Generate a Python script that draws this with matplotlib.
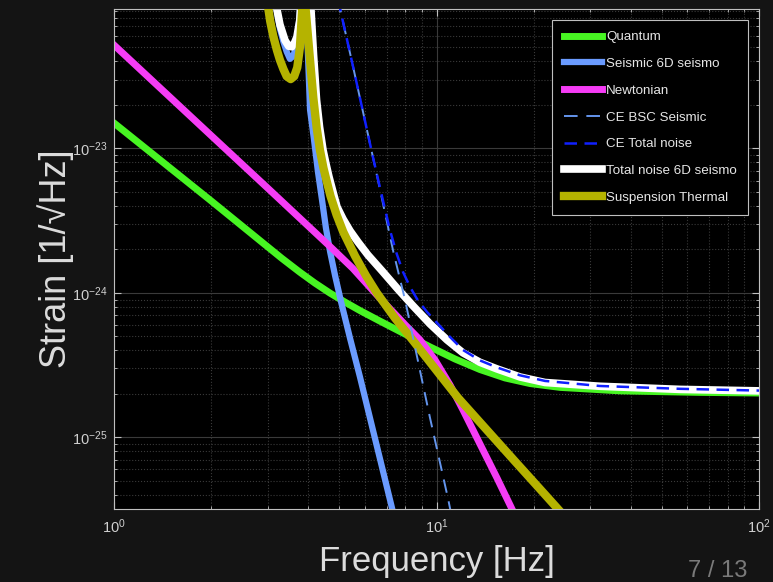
import numpy as np
import matplotlib.pyplot as plt
from matplotlib.ticker import NullFormatter

plt.rcParams['font.family'] = ['Liberation Sans', 'DejaVu Sans']
plt.rcParams['mathtext.default'] = 'regular'

# values: frequency [Hz], strain [1/sqrt(Hz)]
quantum_f = [1.0, 2.0, 3.31, 3.774, 4.2, 4.676, 5.204, 5.79, 6.68, 7.99, 9.55, 11.41, 13.64, 16.31, 19.5,
             24.15, 37.07, 65.6, 100]
quantum_h = [1.5e-23, 4.34e-24, 1.74e-24, 1.389e-24, 1.169e-24, 9.97e-25, 8.64e-25, 7.55e-25, 6.38e-25,
             5.19e-25, 4.23e-25, 3.49e-25, 2.95e-25, 2.58e-25, 2.36e-25, 2.22e-25, 2.1e-25, 2.05e-25, 2.03e-25]

seismic_f = [3.1, 3.2, 3.27, 3.35, 3.43, 3.51, 3.6, 3.68, 3.75, 3.81, 3.87, 3.92, 3.97, 4.054, 4.17, 4.29,
             4.42, 4.54, 4.68, 4.85, 5.06, 5.39, 5.79, 6.22, 6.68, 7.25, 7.49]
seismic_h = [1.58e-22, 8.9e-23, 6.76e-23, 5.5e-23, 4.68e-23, 4.17e-23, 4.37e-23, 5.25e-23, 7.6e-23, 1.26e-22,
             4.0e-22, 1.58e-22, 6.3e-23, 1.85e-23, 1.15e-23, 6.88e-24, 4.33e-24, 2.82e-24, 1.92e-24, 1.31e-24,
             8.66e-25, 4.88e-25, 2.62e-25, 1.36e-25, 7.1e-26, 3.36e-26, 2.48e-26]

newton_f = [1.0, 2.0, 3.0, 4.62, 5.5, 6.5, 7.99, 8.89, 9.89, 11.01, 12.08, 13.64, 15.4, 16.9, 18.16]
newton_h = [5.2e-23, 1.23e-23, 5.3e-24, 2.15e-24, 1.48e-24, 9.8e-25, 6.03e-25, 4.73e-25, 3.44e-25, 2.31e-25,
            1.55e-25, 9.0e-26, 5.24e-26, 3.41e-26, 2.44e-26]

bsc_f = [4.95, 5.02, 5.47, 5.93, 6.37, 6.84, 7.35, 7.99, 8.68, 9.55, 10.88, 11.17]
bsc_h = [1.1e-22, 9.33e-23, 3.97e-23, 1.75e-23, 8.46e-24, 4.06e-24, 1.92e-24, 8.94e-25, 3.72e-25, 1.36e-25,
         3.69e-26, 2.77e-26]

ce_f = [4.95, 5.02, 5.47, 5.93, 6.37, 6.84, 7.17, 7.53, 7.87, 8.28, 8.70, 9.34, 10.04, 11.01, 12.08, 13.64,
        15.4, 18.16, 21.7, 32.1, 56.9, 100]
ce_h = [1.1e-22, 9.33e-23, 3.97e-23, 1.75e-23, 8.46e-24, 4.26e-24, 2.73e-24, 1.86e-24, 1.4e-24, 1.1e-24,
        9.09e-25, 7.39e-25, 6.2e-25, 4.96e-25, 4.03e-25, 3.41e-25, 3.05e-25, 2.69e-25, 2.46e-25, 2.27e-25,
        2.17e-25, 2.11e-25]

total_f = [3.15, 3.2, 3.27, 3.39, 3.48, 3.56, 3.63, 3.69, 3.77, 3.83, 3.88, 3.94, 4.0, 4.08, 4.156, 4.246,
           4.338, 4.447, 4.543, 4.642, 4.776, 4.915, 5.13, 5.394, 5.71, 6.13, 6.78, 7.54, 8.46, 9.55, 10.78,
           12.08, 13.64, 15.4, 18.16, 21.7, 32.1, 56.9, 100]
total_h = [1.41e-22, 9.2e-23, 7.2e-23, 5.6e-23, 5.1e-23, 5.06e-23, 5.4e-23, 5.9e-23, 7.8e-23, 1.41e-22,
           4.0e-22, 1.58e-22, 1.12e-22, 9.2e-23, 4.44e-23, 2.17e-23, 1.41e-23, 9.77e-24, 7.82e-24, 6.35e-24,
           5.0e-24, 3.94e-24, 3.25e-24, 2.69e-24, 2.25e-24, 1.83e-24, 1.42e-24, 1.08e-24, 8.13e-25, 6.1e-25,
           4.73e-25, 3.85e-25, 3.31e-25, 2.98e-25, 2.62e-25, 2.4e-25, 2.26e-25, 2.15e-25, 2.1e-25]

susp_f = [2.95, 3.05, 3.12, 3.2, 3.27, 3.35, 3.43, 3.53, 3.62, 3.7, 3.77, 3.83, 3.88, 3.925, 4.04, 4.15,
          4.25, 4.35, 4.46, 4.58, 4.69, 4.9, 5.14, 5.59, 6.04, 6.53, 7.43, 8.47, 9.89, 11.66, 14.14, 17.27,
          21.7, 23.64, 25.02]
susp_h = [1.26e-22, 7.6e-23, 5.94e-23, 4.79e-23, 4.09e-23, 3.55e-23, 3.16e-23, 3.02e-23, 3.16e-23, 3.63e-23,
          5.0e-23, 8.9e-23, 3.2e-22, 9.38e-23, 4.44e-23, 2.24e-23, 1.39e-23, 9.76e-24, 7.33e-24, 5.77e-24,
          4.69e-24, 3.47e-24, 2.64e-24, 1.8e-24, 1.32e-24, 1.0e-24, 6.71e-25, 4.66e-25, 3.0e-25, 1.88e-25,
          1.163e-25, 7.07e-26, 4.02e-26, 3.25e-26, 2.82e-26]

fig = plt.figure(figsize=(7.73, 5.82), dpi=100, facecolor='#141414')
ax = fig.add_axes([0.1475, 0.1249, 0.8344, 0.8596])
ax.set_facecolor('black')

ax.loglog(quantum_f, quantum_h, color='#47f522', lw=5, label='Quantum', zorder=2)
ax.loglog(seismic_f, seismic_h, color='#6a9bff', lw=4.5, label='Seismic 6D seismo', zorder=2.1)
ax.loglog(newton_f, newton_h, color='#f53cf5', lw=5, label='Newtonian', zorder=2.2)
ax.loglog(bsc_f, bsc_h, color='#6495ed', lw=1.4, dashes=(7, 4.5), label='CE BSC Seismic', zorder=3)
ax.loglog(ce_f, ce_h, color='#1020ff', lw=1.8, dashes=(5, 3), label='CE Total noise', zorder=3.1)
ax.loglog(total_f, total_h, color='white', lw=5.5, label='Total noise 6D seismo', zorder=2.5)
ax.loglog(susp_f, susp_h, color='#b5b300', lw=6, label='Suspension Thermal', zorder=2.6)

ax.set_xlim(1, 100)
ax.set_ylim(3.18e-26, 9.23e-23)
ax.set_yticks([1e-25, 1e-24, 1e-23])

ax.set_axisbelow(True)
ax.grid(True, which='major', color='#3a3a3a', linestyle='-', linewidth=0.8)
ax.grid(True, which='minor', color='#3a3a3a', linestyle=':', linewidth=0.8)

for s in ax.spines.values():
    s.set_color('#bfbfbf')
    s.set_linewidth(0.8)
ax.tick_params(which='both', direction='in', top=True, right=True, colors='#bfbfbf',
               labelcolor='#d0d0d0', labelsize=10.5)
ax.tick_params(which='major', length=5)
ax.tick_params(which='minor', length=2.5)
ax.tick_params(axis='x', pad=6)
ax.tick_params(axis='y', pad=5)
ax.xaxis.set_minor_formatter(NullFormatter())
ax.yaxis.set_minor_formatter(NullFormatter())

ax.set_xlabel('Frequency [Hz]', fontsize=25, color='#dcdcdc', labelpad=6.5)
ax.set_ylabel('Strain [1/√Hz]', fontsize=26, color='#dcdcdc', labelpad=-2)

leg = ax.legend(loc='upper right', facecolor='black', edgecolor='#bfbfbf', fontsize=9.6,
                labelcolor='#e6e6e6', handlelength=2.85, handletextpad=0.35, labelspacing=1.08,
                borderpad=0.85, borderaxespad=0.8, framealpha=1, fancybox=False)
leg.get_frame().set_linewidth(0.8)

# slide page number
fig.text(0.928, 0.009, '7 / 13', ha='center', va='baseline', fontsize=17, color='#7a7a7a')

fig.savefig('out.png', dpi=100, facecolor=fig.get_facecolor())
